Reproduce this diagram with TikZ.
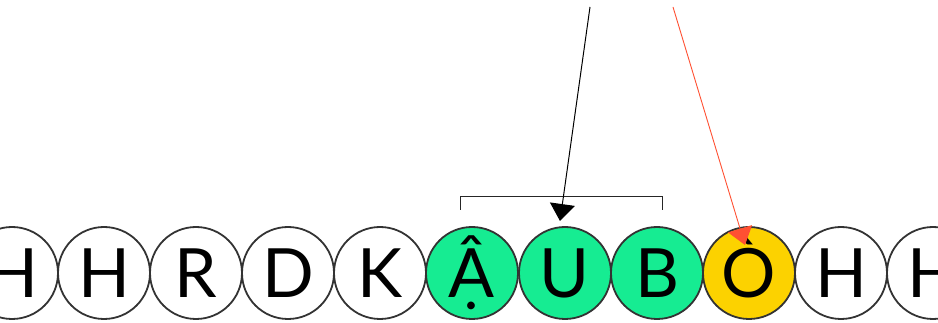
\documentclass[tikz,border=0pt]{standalone}
\usepackage{fontspec}
\setmainfont{Lato}
\usetikzlibrary{arrows.meta}
\definecolor{cellgreen}{RGB}{22,236,146}
\definecolor{cellgold}{RGB}{252,210,0}
\definecolor{ptrred}{RGB}{255,80,50}
\tikzset{
  cell/.style={circle, draw=black!80, line width=1.8pt, minimum size=92pt,
    inner sep=0pt, font=\fontsize{68}{68}\selectfont, text height=49pt, text depth=0pt},
  hit/.style={cell, fill=cellgreen},
  cur/.style={cell, fill=cellgold},
  ptr/.style={line width=1pt, -{Triangle[length=17pt,width=25pt]}},
  brace/.style={draw=black!85, line width=1pt}
}
\begin{document}
\begin{tikzpicture}[x=1pt,y=-1pt]
\clip (0,0) rectangle (938,323);
\fill[white] (0,0) rectangle (938,323);
% row of letter cells
\node[cell] (c0)  at (12,273)  {H};
\node[cell] (c1)  at (104,273) {H};
\node[cell] (c2)  at (196,273) {R};
\node[cell] (c3)  at (288,273) {D};
\node[cell] (c4)  at (380,273) {K};
\node[hit]  (c5)  at (472,273) {Ậ};
\node[hit]  (c6)  at (565,273) {U};
\node[hit]  (c7)  at (657,273) {B};
\node[cur]  (c8)  at (749,273) {Ò};
\node[cell] (c9)  at (841,273) {H};
\node[cell] (c10) at (933,273) {H};
% bracket over the matched window
\coordinate (bl) at (460,210);
\coordinate (br) at (662,210);
\draw[brace] (bl) -- ++(0,-13) -| (br);
% pointers
\coordinate (ptop) at (590,7);
\coordinate (ptip) at (560,221);
\coordinate (qtop) at (673,7);
\coordinate (qtip) at (745,245);
\draw[ptr, black] (ptop) -- (ptip);
\draw[ptr, ptrred, line width=0.9pt] (qtop) -- (qtip);
\end{tikzpicture}
\end{document}
